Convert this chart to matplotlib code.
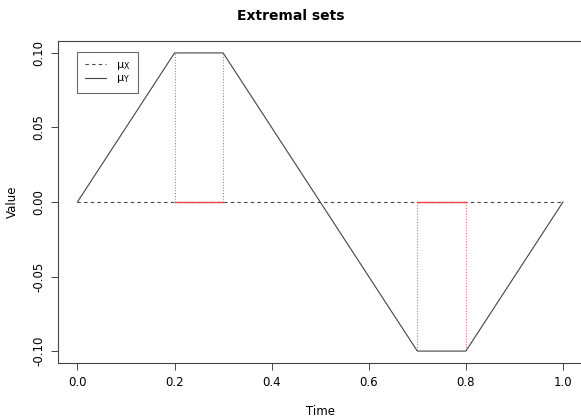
import numpy as np
import matplotlib.pyplot as plt

# data
t = [0.0, 0.2, 0.3, 0.7, 0.8, 1.0]
mu_y = [0.0, 0.1, 0.1, -0.1, -0.1, 0.0]
mu_x_t = [0.0, 1.0]
mu_x = [0.0, 0.0]

# extremal sets: (start, end, value of mu_Y)
sets = [(0.2, 0.3, 0.1), (0.7, 0.8, -0.1)]

fig = plt.figure(figsize=(5.81, 4.17), dpi=100)
ax = fig.add_axes([58 / 581, 54 / 417, (582.4 - 58) / 581, (363 - 41) / 417])

for a, b, v in sets:
    ax.plot([a, a], [0, v], color='#ff6666', lw=0.8, ls=(0, (1, 1.5)))
    ax.plot([b, b], [0, v], color='#ff6666', lw=0.8, ls=(0, (1, 1.5)))

ax.plot(mu_x_t, mu_x, color='#444444', lw=0.8, ls=(0, (3, 3)), label=r'$\mathrm{\mu_X}$')
ax.plot(t, mu_y, color='#444444', lw=0.8, label=r'$\mathrm{\mu_Y}$')

for a, b, v in sets:
    ax.plot([a, b], [0, 0], color='#ee4444', lw=1.0)

ax.set_xlim(-0.04, 1.04)
ax.set_ylim(-0.108, 0.108)
ax.set_xticks(np.arange(0, 1.01, 0.2))
ax.set_xticklabels(['0.0', '0.2', '0.4', '0.6', '0.8', '1.0'])
ax.set_yticks([-0.1, -0.05, 0, 0.05, 0.1])
ax.set_yticklabels(['-0.10', '-0.05', '0.00', '0.05', '0.10'], rotation=90, va='center')
ax.tick_params(labelsize=8.5, length=5, width=0.7, color='#444444', pad=4)
for s in ax.spines.values():
    s.set_linewidth(0.8)
    s.set_color('#444444')

ax.set_xlabel('Time', fontsize=8.5, labelpad=12)
ax.set_ylabel('Value', fontsize=8.5, labelpad=10)
fig.text(0.5, 1 - 16 / 417, 'Extremal sets', ha='center', va='center',
         fontsize=10, fontweight='bold')

leg = ax.legend(loc='upper left', bbox_to_anchor=(19 / 524.4, 1 - 11 / 322),
                borderaxespad=0, fontsize=8, frameon=True, fancybox=False,
                handlelength=1.9, borderpad=0.7, labelspacing=0.15,
                handletextpad=0.9)
leg.get_frame().set_edgecolor('#444444')
leg.get_frame().set_linewidth(0.8)

fig.savefig('out.png', dpi=100)
